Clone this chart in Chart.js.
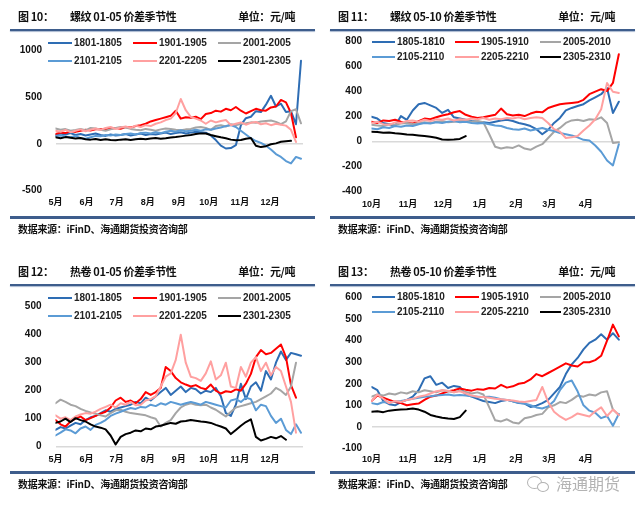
<!DOCTYPE html>
<html><head><meta charset="utf-8">
<script src="https://cdn.jsdelivr.net/npm/chart.js@4.4.1/dist/chart.umd.min.js"></script>
<style>
html,body{margin:0;padding:0;background:#fff;}
body{position:relative;width:640px;height:510px;overflow:hidden;}
.panel{position:absolute;width:320px;height:255px;}
.panel canvas{position:absolute;left:0;top:0;}
.tt{position:absolute;top:9px;font-family:'Noto Sans CJK SC',sans-serif;font-weight:700;font-size:11px;letter-spacing:-0.4px;line-height:14px;color:#111;white-space:nowrap;}
.rule-top{position:absolute;left:10px;width:305px;top:29px;height:2px;background:#3e5d8c;box-shadow:0 1px 1px #a9b9d0;}
.rule-bot{position:absolute;left:10px;width:305px;top:216px;height:3px;background:#3e5d8c;}
.src{position:absolute;left:18px;top:222px;font-family:'Noto Sans CJK SC',sans-serif;font-weight:700;font-size:10px;letter-spacing:-0.3px;line-height:13px;color:#111;white-space:nowrap;}
.lg{position:absolute;font-family:'Liberation Sans','Noto Sans CJK SC',sans-serif;font-weight:700;font-size:10px;line-height:12px;color:#222;white-space:nowrap;}
.lgline{position:absolute;height:2.5px;}
.wm{position:absolute;left:556px;top:474px;font-family:'Noto Sans CJK SC',sans-serif;font-size:16px;line-height:18px;color:#b3b3b3;white-space:nowrap;}
.bub{position:absolute;border:1.5px solid #b3b3b3;border-radius:50%;background:#fff;}
</style></head><body>
<script>
const STEP = 5; // days between samples

// ---------- 图10 螺纹 01-05 ----------
const p1Names = ['1801-1805','1901-1905','2001-2005','2101-2105','2201-2205','2301-2305'];
const p1YTicks = [-500,0,500,1000];
const p13Months = ['5月','6月','7月','8月','9月','10月','11月','12月'];
const p13MonthDays = [0,31,61,92,123,153,184,214];
const p1_1801 = [95,110,100,115,95,105,90,100,110,95, 85,100,90,95,105,90,100,110,95,105, 100,110,120,105,115,125,110,120,130,125, 120,90,40,-20,-50,-45,-15,200,275,290, 350,340,420,515,400,430,340,350,210,890];
const p1_1901 = [105,120,115,135,128,140,150,142,155,160, 152,165,170,162,180,175,190,200,215,240, 255,270,285,300,355,270,285,280,290,265, 320,330,355,345,375,360,395,355,325,350, 375,360,355,390,400,470,445,330,70];
const p1_2001 = [165,150,158,140,148,160,145,170,165,150, 140,155,170,180,175,160,150,145,160,150, 140,155,165,160,150,145,155,160,175,180, 170,150,190,200,185,210,200,215,220,230, 225,240,245,250,235,210,240,350,370,220];
const p1_2101 = [85,90,80,70,85,60,55,70,85,80, 95,90,100,95,105,110,100,115,120,110, 125,115,130,140,130,145,135,140,150,140, 155,150,165,175,190,200,180,140,100,60, 30,10,-20,-60,-110,-140,-185,-210,-140,-160];
const p1_2201 = [140,130,150,125,140,155,135,150,165,150, 170,180,160,175,185,170,195,180,200,190, 215,230,255,270,330,480,360,290,270,250, 215,250,230,245,255,200,215,230,205,225, 235,210,220,200,215,205,195,150,20];
const p1_2301 = [70,60,72,65,58,62,50,45,52,40, 48,42,38,45,50,42,48,55,50,58, 62,55,60,68,72,80,88,95,105,112, 110,95,82,70,60,45,38,42,55,62, -20,-35,-25,-5,5,22,28,32];

// ---------- 图11 螺纹 05-10 ----------
const p2Names = ['1805-1810','1905-1910','2005-2010','2105-2110','2205-2210','2305-2310'];
const p2YTicks = [-400,-200,0,200,400,600,800];
const p24Months = ['10月','11月','12月','1月','2月','3月','4月'];
const p24MonthDays = [0,31,61,92,123,151,182];
const p2_1805 = [200,185,150,140,125,205,175,250,300,310, 290,270,230,255,195,185,175,165,160,155, 150,160,170,175,165,150,140,125,100,60, 95,150,190,250,270,285,300,330,355,380, 430,230,320];
const p2_1905 = [160,150,170,165,175,160,150,145,165,185, 180,195,210,220,235,245,215,200,190,195, 205,215,265,220,210,215,205,225,240,235, 270,285,300,305,310,315,335,380,400,420, 405,470,700];
const p2_2005 = [135,130,125,140,135,145,150,140,150,155, 150,160,165,155,160,165,170,160,165,155, 60,-40,-55,-45,-50,-30,-55,-65,-40,-20, 30,80,110,150,170,175,165,180,175,195, 150,-10,-5];
const p2_2105 = [105,100,115,110,125,120,130,125,140,150, 145,155,150,160,165,155,160,150,145,150, 140,130,125,110,100,95,105,90,100,110, 95,85,70,60,50,35,15,10,-30,-80, -150,-190,-20];
const p2_2205 = [150,160,140,135,155,150,165,170,160,175, 165,180,175,185,170,180,175,185,180,190, 175,185,180,190,185,195,180,190,195,190, 150,100,80,30,35,45,90,130,180,260, 470,400,390];
const p2_2305 = [80,78,72,74,68,64,58,55,50,45, 40,32,18,15,17,22,45];

// ---------- 图12 热卷 01-05 ----------
const p3YTicks = [0,100,200,300,400,500];
const p3_1801 = [60,70,65,75,85,80,95,105,110,120, 130,125,135,140,145,150,160,155,175,165, 180,195,210,185,200,215,195,210,205,190, 200,195,210,180,120,110,150,225,170,215, 230,200,270,240,300,340,310,335,330,325];
const p3_1901 = [95,80,72,90,100,108,95,102,110,118, 125,140,165,175,160,165,155,170,195,185, 195,210,285,270,245,230,222,215,220,210, 205,222,200,190,198,195,205,200,225,260, 320,345,330,335,350,365,320,220,175];
const p3_2001 = [155,168,160,150,145,135,128,122,118,112, 108,120,130,132,125,120,118,115,112,105, 100,72,85,95,120,140,150,155,150,148, 150,140,132,120,108,125,140,145,150,155, 160,170,180,190,210,200,185,215,300];
const p3_2101 = [40,50,62,58,48,65,72,60,78,85, 95,110,118,125,132,138,135,142,140,150, 145,155,150,160,155,150,155,160,155,150, 160,155,150,145,140,165,170,160,175,170, 130,150,145,110,85,100,60,45,80,50];
const p3_2201 = [112,100,105,95,108,115,120,118,125,135, 142,150,140,155,150,160,148,150,165,170, 180,215,250,262,310,400,300,250,245,235, 262,305,240,255,300,215,210,285,250,300, 320,270,300,255,285,270,215,160,50];
const p3_2301 = [85,90,100,88,102,95,90,80,72,68, 62,40,8,35,45,50,58,55,65,62, 72,75,80,85,82,90,92,95,93,90, 88,85,78,72,65,45,60,75,88,98, 35,22,28,35,30,38,25];

// ---------- 图13 热卷 05-10 ----------
const p4YTicks = [-100,0,100,200,300,400,500,600];
const p4_1805 = [185,170,120,105,100,115,125,140,170,225, 235,195,205,180,190,185,150,140,130,120, 115,110,120,125,118,110,108,92,98,110, 125,155,185,245,290,320,360,390,405,430, 405,435,405];
const p4_1905 = [120,145,135,125,115,110,100,105,108,125, 140,145,155,165,170,178,172,168,175,172, 180,178,195,182,188,200,205,220,245,235, 250,265,280,295,285,280,300,300,310,330, 400,475,420];
const p4_2005 = [140,150,145,155,150,160,155,165,160,170, 165,160,170,165,160,168,162,155,160,150, 90,30,25,35,20,15,40,45,55,60, 90,100,115,110,125,145,140,150,145,160, 165,80,55];
const p4_2105 = [110,105,115,112,118,120,125,130,135,140, 142,145,148,150,145,148,145,142,140,138, 140,135,128,125,118,112,108,100,90,85, 95,120,170,205,215,165,100,75,65,40, 50,5,60];
const p4_2205 = [120,150,130,110,120,115,125,130,140,145, 155,165,170,168,160,165,155,145,140,138, 135,130,128,125,122,118,115,120,125,185, 115,70,48,32,45,62,55,48,72,90, 50,80,55];
const p4_2305 = [70,72,68,75,78,80,82,85,80,70, 55,48,42,38,36,45,75];

const COLORS = ['#2e6db4','#ff0000','#a5a5a5','#5b9bd5','#ffa0a0','#000000'];
const FONT = "'Liberation Sans','Noto Sans CJK SC',sans-serif";
const SOURCE = '数据来源：iFinD、海通期货投资咨询部';

const L_LEG = {rows:[43,61], x:[[48,74],[133,159],[218,243]]};
const R_LEG = {rows:[42,57], x:[[52,77],[135,161],[220,243]]};

const panels = [
  {left:0, top:0, fig:'图 10：', title:'螺纹 01-05 价差季节性', names:p1Names,
   series:[p1_1801,p1_1901,p1_2001,p1_2101,p1_2201,p1_2301], yTicks:p1YTicks,
   months:p13Months, monthDays:p13MonthDays, xMax:247,
   plot:{l:55.5,t:50.5,r:303,b:190.5}, yPad:13.5, xPad:7, leg:L_LEG},
  {left:320, top:0, fig:'图 11：', title:'螺纹 05-10 价差季节性', names:p2Names,
   series:[p2_1805,p2_1905,p2_2005,p2_2105,p2_2205,p2_2305], yTicks:p2YTicks,
   months:p24Months, monthDays:p24MonthDays, xMax:211,
   plot:{l:51.5,t:41.7,r:300,b:191.7}, yPad:9.5, xPad:7, leg:R_LEG},
  {left:0, top:255, fig:'图 12：', title:'热卷 01-05 价差季节性', names:p1Names,
   series:[p3_1801,p3_1901,p3_2001,p3_2101,p3_2201,p3_2301], yTicks:p3YTicks,
   months:p13Months, monthDays:p13MonthDays, xMax:247,
   plot:{l:55.5,t:51.7,r:303,b:191.7}, yPad:14, xPad:7, leg:L_LEG},
  {left:320, top:255, fig:'图 13：', title:'热卷 05-10 价差季节性', names:p2Names,
   series:[p4_1805,p4_1905,p4_2005,p4_2105,p4_2205,p4_2305], yTicks:p4YTicks,
   months:p24Months, monthDays:p24MonthDays, xMax:211,
   plot:{l:51.5,t:42.7,r:300,b:193.3}, yPad:9.5, xPad:6, leg:R_LEG}
];

function el(parent, cls, css, text){
  const d = document.createElement('div');
  if (cls) d.className = cls;
  Object.assign(d.style, css||{});
  if (text!=null) d.textContent = text;
  parent.appendChild(d);
  return d;
}

panels.forEach(p => {
  const div = el(document.body,'panel',{left:p.left+'px',top:p.top+'px'});
  const cv = document.createElement('canvas');
  cv.width = 320; cv.height = 255;
  cv.style.width='320px'; cv.style.height='255px';
  div.appendChild(cv);

  el(div,'tt',{left:'18px'},p.fig);
  el(div,'tt',{left:'70px'},p.title);
  el(div,'tt',{right:'25px'},'单位：元/吨');
  el(div,'rule-top');
  el(div,'rule-bot');
  el(div,'src',{},SOURCE);

  p.names.forEach((n,k) => {
    const row = Math.floor(k/3), col = k%3;
    const y = p.leg.rows[row];
    const [lx,tx] = p.leg.x[col];
    el(div,'lgline',{left:lx+'px',top:(y-1.25)+'px',width:(tx-lx-2)+'px',background:COLORS[k]});
    el(div,'lg',{left:tx+'px',top:(y-6)+'px'},n);
  });

  new Chart(cv, {
    type:'line',
    data:{datasets:p.series.map((vals,k)=>({
      label:p.names[k],
      data:vals.map((v,i)=>({x:i*STEP,y:v})),
      borderColor:COLORS[k], backgroundColor:COLORS[k],
      borderWidth:2, pointRadius:0, pointHoverRadius:0, tension:0, fill:false,
      borderJoinStyle:'round', borderCapStyle:'round',
      order:p.series.length-k
    }))},
    options:{
      responsive:false, animation:false, events:[],
      layout:{padding:{left:0,top:p.plot.t,right:320-p.plot.r,bottom:0}},
      plugins:{legend:{display:false},tooltip:{enabled:false},title:{display:false}},
      scales:{
        x:{type:'linear',min:0,max:p.xMax,
          border:{display:false}, grid:{display:false,drawTicks:false},
          afterBuildTicks:(sc)=>{sc.ticks=p.monthDays.map(v=>({value:v}));},
          afterFit:(sc)=>{sc.height=255-p.plot.b;},
          ticks:{autoSkip:false,maxRotation:0,minRotation:0,padding:p.xPad,color:'#111',
            font:{family:FONT,size:9,weight:'bold'},
            callback:(v)=>p.months[p.monthDays.indexOf(v)]}
        },
        y:{type:'linear',min:p.yTicks[0],max:p.yTicks[p.yTicks.length-1],
          border:{display:false},
          grid:{drawTicks:false,lineWidth:1.5,
            color:(c)=> (c.tick && c.tick.value===0) ? '#d9d9d9' : 'rgba(0,0,0,0)'},
          afterBuildTicks:(sc)=>{sc.ticks=p.yTicks.map(v=>({value:v}));},
          afterFit:(sc)=>{sc.width=p.plot.l;},
          ticks:{padding:p.yPad,color:'#111',font:{family:FONT,size:10,weight:'bold'},
            callback:(v)=>String(v)}
        }
      }
    }
  });
});

// watermark
el(document.body,'bub',{left:'527px',top:'476px',width:'13px',height:'11px'});
el(document.body,'bub',{left:'537px',top:'482px',width:'10px',height:'8px'});
el(document.body,'wm',{},'海通期货');
</script>
</body></html>
